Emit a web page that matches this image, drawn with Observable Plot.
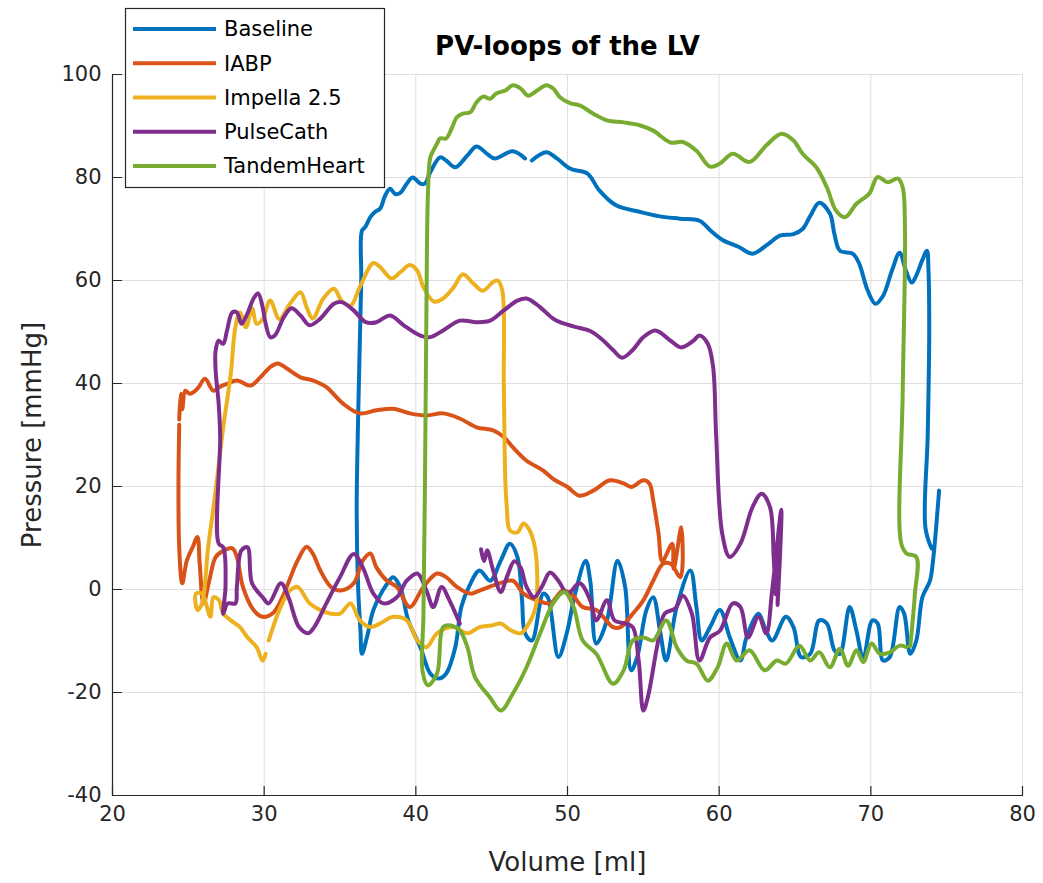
<!DOCTYPE html>
<html>
<head>
<meta charset="utf-8">
<script src="https://cdn.jsdelivr.net/npm/d3@7"></script>
<script src="https://cdn.jsdelivr.net/npm/@observablehq/plot@0.6"></script>
<style>
  html, body { margin: 0; padding: 0; background: #ffffff; }
  #chart { position: relative; width: 1043px; height: 883px; }
</style>
</head>
<body>
<div id="chart"></div>
<script>
// ---------- data ----------
const seriesNames = ["Baseline", "IABP", "Impella 2.5", "PulseCath", "TandemHeart"];
const seriesColors = ["#0072BD", "#D95319", "#EDB120", "#7E2F8E", "#77AC30"];
const xTicks = [20, 30, 40, 50, 60, 70, 80];
const yTicks = [-40, -20, 0, 20, 40, 60, 80, 100];
const titleText = "PV-loops of the LV";
const xLabel = "Volume [ml]";
const yLabel = "Pressure [mmHg]";

// [volume ml, pressure mmHg]
const baseline = [[74.0,8],[73.6,12],[73.75,30],[73.85,50],[73.8,62],[73.7,65.8],[73.4,64],[73.0,61],[72.7,59.6],[72.3,62],[71.9,65.4],[71.4,62],[70.8,57],[70.3,55.5],[69.8,58],[69.2,63.5],[68.8,65.2],[67.96,65.8],[67.6,69],[67.3,73],[66.6,75.1],[66.0,72.5],[65.5,70],[64.9,69],[64.0,68.7],[63.2,67],[62.2,65.2],[61.3,66.5],[60.25,67.8],[59.5,69.5],[58.7,71.6],[57.4,72],[56.0,72.5],[54.8,73.3],[53.2,74.6],[52.1,77.5],[51.3,80.8],[50.2,81.7],[49.3,83.7],[48.6,84.9],[47.65,83.3],[NaN,NaN],[47.2,83.7],[46.4,85.1],[45.2,83.7],[44.7,84.6],[44.0,86],[43.4,84.3],[42.6,82],[42.0,83.3],[41.6,83.9],[40.95,81],[40.6,78.8],[40.3,78.8],[39.8,80],[39.4,78.8],[38.97,77],[38.65,76.8],[38.3,77.8],[37.98,76.5],[37.65,74],[37.3,73.3],[37.0,72.3],[36.67,70.4],[36.45,69.7],[36.4,60],[36.2,34],[36.1,15],[36.2,0],[36.35,-8],[36.45,-12.5],[36.8,-9],[37.2,-4],[38.1,1.1],[38.5,2.4],[38.97,0.5],[39.5,-6],[40.3,-11.2],[40.95,-16.3],[41.5,-17.3],[42.0,-16.3],[42.6,-11.2],[43.0,-3.4],[43.5,0.5],[44.2,3.7],[44.9,1.7],[45.6,5.6],[46.2,8.9],[46.7,6.3],[47.0,-2],[47.2,-8.5],[47.65,-9.9],[48.4,-0.8],[48.7,-1.5],[49.4,-13.1],[49.95,-8.5],[50.5,-0.8],[51.2,5.6],[51.5,1.7],[51.9,-10.5],[52.6,-6],[53.3,5.6],[53.8,0.5],[54.2,-15.7],[54.6,-13.1],[55.2,-4],[55.65,-1.5],[56.1,-8],[56.5,-13.8],[57.2,-3.4],[58.1,3.7],[58.5,-3.4],[58.85,-9.9],[59.4,-7.3],[60.05,-4],[60.7,-9.3],[61.4,-13.8],[61.8,-9.3],[62.6,-4.7],[63.0,-7.3],[63.5,-9.9],[64.4,-5.3],[64.9,-7.3],[65.4,-13.1],[66.0,-12.5],[66.6,-6],[67.1,-6.6],[67.6,-11.8],[67.96,-12.5],[68.6,-3.4],[69.05,-8],[69.5,-13.4],[70.1,-6],[70.45,-6.6],[70.8,-13.8],[71.25,-13.1],[71.9,-3.4],[72.2,-4.7],[72.6,-12.5],[73.0,-9.9],[73.4,-1.5],[73.9,1.7],[74.1,5.6],[74.5,19.2]];

const iabp = [[24.4,33],[24.5,38],[24.6,35],[24.8,38.6],[25.1,38],[25.6,39],[26.1,40.9],[26.65,38.6],[27.1,39.4],[27.6,40],[28.2,40.6],[29.1,39.6],[29.75,41.2],[30.4,43.2],[30.9,43.9],[31.5,42.9],[32.4,41.2],[33.2,40.6],[34.1,39.3],[35.2,36.1],[36.3,34.2],[37.4,34.8],[38.5,35.1],[39.6,34.2],[40.7,33.8],[41.8,34.2],[42.9,33.2],[44.0,31.5],[45.1,30.9],[45.8,29.6],[46.4,27.6],[47.3,25],[48.4,23.1],[49.05,21.5],[50.0,19.9],[50.8,18.2],[51.7,19.2],[52.8,21.2],[53.7,20.6],[54.2,19.9],[55.0,21.2],[55.4,20.6],[55.65,17.3],[56.0,10.9],[56.25,5.5],[56.9,8.9],[57.0,4],[57.5,12.1],[57.45,2.4],[56.8,5],[56.3,5],[55.65,1.7],[55.0,-2.1],[54.3,-4.7],[53.5,-7.3],[53.0,-7.3],[51.9,-4],[51.0,-3.4],[50.3,-1],[49.7,-0.2],[48.85,-2.7],[48.0,-2.1],[47.1,-0.8],[46.4,1.7],[45.5,1.2],[44.2,-0.2],[43.6,-0.8],[42.7,0.5],[42.0,2.4],[41.4,3.1],[40.5,0.5],[39.6,-3.4],[38.75,0.5],[38.1,1.7],[37.4,4.3],[37.0,7],[36.5,5.6],[35.9,1.2],[35.0,-0.2],[34.4,0.5],[33.7,3.7],[33.2,7],[32.8,8.3],[32.2,5.6],[31.2,-1.5],[30.6,-4.5],[29.9,-5.3],[29.3,-4],[28.6,0.5],[28.2,6.3],[27.9,8],[27.3,7.5],[26.8,6.3],[26.4,2],[26.0,-2.7],[25.75,5],[25.6,10.2],[25.3,8.3],[24.9,5.6],[24.6,1.2],[24.4,8],[24.35,20],[24.4,32]];

const impella = [[30.3,-9.9],[30.9,-4.7],[31.4,-1.5],[31.7,-0.2],[32.2,0.5],[33.0,-2.7],[33.7,-4],[34.4,-4.7],[35.0,-4.7],[35.7,-2.7],[36.3,-6],[37.0,-7.3],[37.65,-6.6],[38.5,-5.3],[39.4,-6],[40.1,-9.9],[40.7,-11.2],[41.4,-8.5],[42.5,-7.3],[43.4,-8.5],[44.2,-7.3],[45.0,-7],[45.6,-6.6],[46.2,-7.8],[46.9,-8.5],[47.3,-7.3],[47.9,-3.4],[48.0,3.1],[47.85,8.2],[47.5,11.5],[47.1,12.8],[46.7,11.1],[46.2,11.5],[46.0,16],[45.9,21.2],[45.8,40],[45.7,58],[45.4,60],[45.1,59.7],[44.4,58],[43.8,59.4],[43.1,61.2],[42.5,58.7],[41.8,56.5],[41.2,55.9],[40.5,58.7],[40.1,61.9],[39.6,63],[38.97,61.6],[38.4,60.4],[37.65,62.6],[37.2,63.4],[36.3,58.7],[35.7,55.1],[35.1,56.1],[34.6,58.4],[33.9,56.5],[33.2,52.6],[32.8,54.8],[32.4,57.7],[31.7,55.5],[31.0,52.5],[30.4,56.1],[29.9,52.5],[29.5,51.6],[29.2,54.6],[28.8,50.9],[28.4,53.8],[28.1,50.9],[27.8,41.9],[27.3,31.5],[26.8,19.2],[26.3,8],[25.9,-2.7],[25.6,-4],[25.5,-0.8],[25.9,-0.8],[26.45,-5.3],[26.65,-1.5],[27.0,-2],[27.3,-4.7],[27.8,-6],[28.4,-7.3],[28.9,-9.3],[29.5,-11.2],[29.9,-13.8],[30.1,-12.5]];

const pulseCath = [[44.3,7.8],[44.5,5.5],[44.7,7.6],[45.1,3.7],[45.6,-0.5],[46.0,2.4],[46.5,5.5],[46.9,4.3],[47.3,0.5],[47.8,-1.5],[48.3,0.5],[48.85,3.3],[49.4,1.7],[50.0,-0.8],[50.8,1.2],[51.5,-2.1],[51.9,-6],[52.6,-2.1],[53.1,-6],[53.8,-6.6],[54.3,-7.3],[54.7,-14],[55.0,-23.5],[55.3,-20.9],[55.9,-11.2],[56.4,-4.7],[57.1,-3.7],[57.6,-1.2],[58.2,-4.7],[58.7,-13.8],[59.4,-9.3],[60.05,-8],[60.9,-2.7],[61.4,-3.4],[61.9,-9.3],[62.6,-5.3],[63.1,-8.5],[63.5,0],[64.1,15.5],[63.85,-3],[64.0,11],[63.75,-1],[63.6,6],[63.35,16],[62.8,18.6],[62.2,16],[61.4,8.9],[60.7,6.3],[60.2,10.9],[59.8,30],[59.6,43.2],[59.25,47.7],[58.7,49.3],[58.3,48.3],[57.5,47],[56.8,48.3],[55.8,50.3],[55.0,49],[54.3,46.5],[53.6,45],[53.0,46.5],[52.3,48.5],[51.5,50.2],[50.5,51],[49.5,51.9],[49.05,52.6],[48.2,54.8],[47.3,56.5],[46.7,56.1],[45.8,54.2],[44.9,52.2],[44.0,51.9],[42.9,52.2],[41.8,50.3],[40.95,49],[40.3,49.3],[39.2,51.3],[38.3,53.2],[37.4,51.9],[36.7,51.9],[35.9,54.2],[35.1,55.8],[34.6,55.5],[33.7,52.6],[33.0,51.3],[32.4,53.2],[31.8,54.6],[31.3,52.9],[30.7,49.3],[30.4,49],[30.1,51.6],[29.9,54.8],[29.6,57.5],[29.3,56.5],[28.9,53.6],[28.5,51.6],[28.2,53.8],[27.9,53.8],[27.55,50.3],[27.3,47.7],[27.0,48.3],[26.8,46.4],[26.8,42.5],[27.0,36.1],[27.1,29.6],[27.0,8.9],[27.3,8.2],[27.45,0.5],[27.3,-4.7],[27.6,-2.7],[28.1,-2.7],[28.2,0.5],[28.5,7.6],[28.9,8.2],[29.2,1.2],[29.9,-1.5],[30.3,-2.7],[31.1,1.2],[31.6,-1.5],[32.3,-7.3],[32.9,-8.5],[33.3,-7.3],[34.1,-2.7],[35.0,2.4],[35.9,6.9],[36.5,4.3],[37.2,-0.8],[37.85,-2.7],[38.75,-1.5],[39.4,1.7],[40.1,3.1],[40.7,-0.2],[41.15,-3.4],[41.7,0.5],[42.2,-2],[42.9,-6.6]];

const tandemHeart = [[72.6,-11],[72.9,-1],[73.0,6.3],[72.35,7],[72.0,9],[72.1,38],[72.25,70],[72.1,78.1],[71.8,79.8],[71.1,79.1],[70.45,80.1],[69.9,76.9],[69.05,74.9],[68.3,72.3],[67.7,73.6],[67.1,78.1],[66.4,82],[65.5,84.6],[64.9,87.2],[64.1,88.5],[63.1,86.2],[62.0,83],[60.9,84.6],[60.05,82.7],[59.4,82.1],[58.5,85.2],[57.6,86.9],[56.8,86.8],[55.65,89.1],[54.8,90.1],[53.7,90.7],[52.6,91.1],[51.7,92.4],[50.8,94],[50.2,94.4],[49.5,95.6],[49.05,97.3],[48.6,97.9],[48.0,96.9],[47.4,95.9],[46.9,97.3],[46.4,97.9],[45.9,96.9],[45.3,96.3],[44.9,95.3],[44.45,95.7],[44.0,94.6],[43.6,92.7],[43.1,92.4],[42.7,91.7],[42.4,89.8],[42.0,87.6],[41.6,87.6],[41.4,86.6],[41.15,85.2],[40.95,83.9],[40.8,77],[40.7,55],[40.6,20],[40.5,-5],[40.45,-16],[40.8,-18.6],[41.4,-16.3],[41.8,-7.3],[42.3,-7],[42.9,-8],[43.4,-11.2],[43.9,-17],[44.9,-21],[45.6,-23.5],[46.4,-20.2],[47.3,-15.1],[48.2,-8.5],[49.05,-2.7],[49.8,-0.5],[50.4,-3.4],[51.0,-9.9],[51.9,-12.5],[53.0,-18.3],[53.7,-15.7],[54.3,-9.9],[55.0,-9.3],[55.65,-9.9],[56.5,-6],[57.2,-11.2],[57.85,-13.8],[58.5,-14.4],[59.25,-17.7],[59.9,-15.1],[60.5,-10.5],[61.15,-13.8],[62.0,-11.8],[63.0,-15.7],[63.8,-13.8],[64.4,-14.4],[65.3,-10.9],[66.0,-13.8],[66.6,-12.2],[67.3,-15.1],[67.96,-11.5],[68.5,-14.8],[69.05,-11.8],[69.5,-14.1],[70.05,-10.5],[70.6,-12.5],[71.25,-12.2],[71.9,-10.9],[72.35,-11.2]];

const seriesData = [baseline, iabp, impella, pulseCath, tandemHeart];

// ---------- styling ----------
const W = 1043, H = 883;
const font = "'DejaVu Sans', 'Liberation Sans', Arial, sans-serif";
const axisColor = "#262626";
const gridColor = "#dfdfdf";
const tickFont = 21;
const labelFont = 26;
const lineW = 4;

const rows = seriesData.flatMap((pts, s) =>
  pts.map(([v, p], i) => ({series: seriesNames[s], v, p, i})));

const tickShape = {draw(context, l) { context.moveTo(0, 0); context.lineTo(0, -l); }};

const lineMarks = seriesNames.map((name) =>
  Plot.line(rows.filter(d => d.series === name), {
    x: "v", y: "p", stroke: "series",
    strokeWidth: lineW, strokeLinejoin: "round", strokeLinecap: "round",
    curve: "catmull-rom"
  }));

const chart = Plot.plot({
  width: W, height: H,
  marginLeft: 112, marginRight: 21, marginTop: 74, marginBottom: 88,
  style: {fontFamily: font, background: "#ffffff", overflow: "visible"},
  x: {domain: [xTicks[0], xTicks[xTicks.length - 1]], nice: false},
  y: {domain: [yTicks[0], yTicks[yTicks.length - 1]], nice: false},
  color: {domain: seriesNames, range: seriesColors},
  marks: [
    Plot.gridX(xTicks, {stroke: gridColor, strokeOpacity: 1, strokeWidth: 1}),
    Plot.gridY(yTicks, {stroke: gridColor, strokeOpacity: 1, strokeWidth: 1}),
    ...lineMarks,
    Plot.ruleX([xTicks[0]], {stroke: axisColor, strokeWidth: 1.2}),
    Plot.ruleY([yTicks[0]], {stroke: axisColor, strokeWidth: 1.2}),
    Plot.vector(xTicks, {x: d => d, y: () => yTicks[0], length: 9, anchor: "start",
      shape: tickShape, stroke: axisColor, strokeWidth: 1.2}),
    Plot.vector(yTicks, {x: () => xTicks[0], y: d => d, length: 9, rotate: 90, anchor: "start",
      shape: tickShape, stroke: axisColor, strokeWidth: 1.2}),
    Plot.axisX(xTicks, {tickSize: 0, tickPadding: 11, fontSize: tickFont, color: axisColor,
      label: null, tickFormat: d => String(d)}),
    Plot.axisY(yTicks, {tickSize: 0, tickPadding: 11, fontSize: tickFont, color: axisColor,
      label: null, tickFormat: d => String(d)}),
    Plot.text([titleText], {frameAnchor: "top", dy: -28, lineAnchor: "middle", textAnchor: "middle",
      fontSize: labelFont, fontWeight: "bold", fill: "#000"}),
    Plot.text([xLabel], {frameAnchor: "bottom", dy: 67, lineAnchor: "middle", textAnchor: "middle",
      fontSize: labelFont, fill: axisColor}),
    Plot.text([yLabel], {frameAnchor: "left", dx: -80, rotate: -90, lineAnchor: "middle", textAnchor: "middle",
      fontSize: labelFont, fill: axisColor})
  ]
});

document.getElementById("chart").appendChild(chart);

// ---------- legend (top-left box overlapping the axes) ----------
const svg = d3.select(chart.tagName.toLowerCase() === "svg" ? chart : chart.querySelector("svg"));
const lg = svg.append("g").attr("class", "legend").attr("text-anchor", "start");
const box = {x: 125.5, y: 8.5, w: 259, h: 179};
lg.append("rect").attr("x", box.x).attr("y", box.y).attr("width", box.w).attr("height", box.h)
  .attr("fill", "#ffffff").attr("stroke", axisColor).attr("stroke-width", 1.2);
const rowY = d3.scaleLinear().domain([0, seriesNames.length - 1]).range([29, 166]);
seriesNames.forEach((name, k) => {
  const y = rowY(k);
  lg.append("line").attr("x1", 133).attr("x2", 216).attr("y1", y).attr("y2", y)
    .attr("stroke", seriesColors[k]).attr("stroke-width", lineW);
  lg.append("text").attr("x", 224).attr("y", y).attr("dy", "0.35em")
    .attr("text-anchor", "start")
    .attr("font-family", font).attr("font-size", 21).attr("fill", "#000").text(name);
});
</script>
</body>
</html>
